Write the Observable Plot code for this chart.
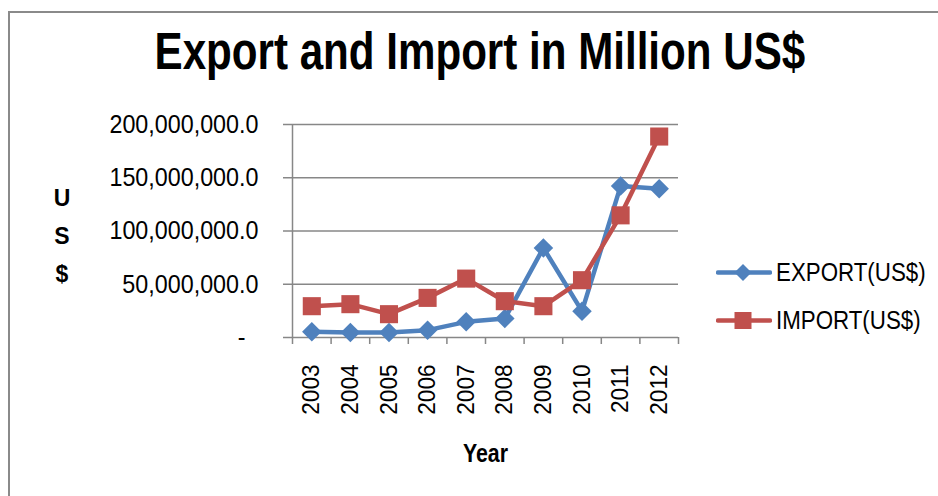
<!DOCTYPE html>
<html><head><meta charset="utf-8">
<script src="https://cdn.jsdelivr.net/npm/d3@7"></script>
<script src="https://cdn.jsdelivr.net/npm/@observablehq/plot@0.6"></script>
<style>
body{margin:0;background:#fff;}
#wrap{position:relative;width:938px;height:496px;overflow:hidden;background:#fff;
  font-family:"Liberation Sans",Arial,sans-serif;color:#000;}
#chart{position:absolute;left:0;top:0;}
#frame{position:absolute;left:8px;top:11px;width:1200px;height:800px;border:2px solid #8a8a8a;pointer-events:none;}
.t{position:absolute;white-space:nowrap;line-height:1;}
.n{display:inline-block;transform:scaleX(0.82);}
#title{left:0;width:960px;text-align:center;top:26px;font-size:51px;font-weight:bold;}
#title .n{transform-origin:center;transform:scaleX(0.826);}
#xtitle{left:385px;width:200px;text-align:center;top:440px;font-size:26px;font-weight:bold;}
#xtitle .n{transform-origin:center;}
.yl{left:42px;width:40px;text-align:center;font-size:23px;font-weight:bold;}
.lg{left:716px;font-size:25.5px;}
.lg .n{transform-origin:left center;transform:scaleX(0.875);}
.lg svg{vertical-align:middle;}
</style>
</head><body>
<div id="wrap">
  <div id="chart"></div>
  <div id="title" class="t"><span class="n">Export and Import in Million US$</span></div>
  <div class="t yl" style="top:187px">U</div>
  <div class="t yl" style="top:225px">S</div>
  <div class="t yl" style="top:263px">$</div>
  <div id="xtitle" class="t"><span class="n">Year</span></div>
  <div id="legend"></div>
  <div id="frame"></div>
</div>
<script>
const years = ["2003","2004","2005","2006","2007","2008","2009","2010","2011","2012"];
const exportUS = [5.3e6, 4.7e6, 4.7e6, 6.9e6, 14.7e6, 17.8e6, 84.1e6, 24.7e6, 142.2e6, 139.7e6];
const importUS = [29.4e6, 31.3e6, 21.9e6, 37.2e6, 55.3e6, 34.1e6, 29.4e6, 53.8e6, 114.7e6, 188.7e6];
const yTicks = [0, 50e6, 100e6, 150e6, 200e6];
const seriesNames = ["EXPORT(US$)", "IMPORT(US$)"];
const seriesColors = ["#4F81BD", "#C0504D"];

const rows = years.map((year, i) => ({year, pos: i + 0.5, exp: exportUS[i], imp: importUS[i]}));
const grid = "#878787";
const fmt = d3.format(",.1f");

const chart = Plot.plot({
  width: 938, height: 496,
  marginLeft: 292, marginRight: 260, marginTop: 124, marginBottom: 159,
  style: {fontFamily: '"Liberation Sans",Arial,sans-serif', fontSize: "26px", color: "#000", background: "transparent", overflow: "visible"},
  x: {type: "linear", domain: [0, years.length], axis: null},
  y: {domain: [0, 200e6], axis: null},
  marks: [
    Plot.gridY(yTicks, {stroke: grid, strokeOpacity: 1, strokeWidth: 1.5}),
    Plot.axisY(yTicks, {tickSize: 9, tickPadding: 25, stroke: grid, strokeWidth: 1.5, fontSize: 26.5, label: null,
      tickFormat: v => v === 0 ? "-\u00a0\u00a0" : fmt(v)}),
    Plot.ruleX([0], {stroke: grid, strokeWidth: 1.5}),
    Plot.axisX(d3.range(years.length + 1), {tickSize: 7, tickFormat: () => "", stroke: grid, strokeWidth: 1.5, label: null}),
    Plot.axisX(rows.map(d => d.pos), {tickSize: 0, tickPadding: 27, tickRotate: -90, fontSize: 24, label: null,
      tickFormat: v => years[Math.floor(v)]}),
    Plot.line(rows, {x: "pos", y: "exp", stroke: seriesColors[0], strokeWidth: 4.5, strokeLinejoin: "round"}),
    Plot.dot(rows, {x: "pos", y: "exp", symbol: "diamond2", r: 8.8, fill: seriesColors[0], stroke: null}),
    Plot.line(rows, {x: "pos", y: "imp", stroke: seriesColors[1], strokeWidth: 4.5, strokeLinejoin: "round"}),
    Plot.dot(rows, {x: "pos", y: "imp", symbol: "square", r: 10.2, fill: seriesColors[1], stroke: null})
  ]
});
// condense axis tick labels (narrow font look)
chart.querySelectorAll('g[aria-label="y-axis tick label"] text').forEach(t => {
  t.setAttribute("transform", (t.getAttribute("transform") || "") + " scale(0.88,1)");
});
chart.querySelectorAll('g[aria-label="x-axis tick label"] text').forEach(t => {
  t.setAttribute("transform", (t.getAttribute("transform") || "") + " scale(0.94,1)");
});
document.getElementById("chart").appendChild(chart);

// legend
const lg = document.getElementById("legend");
const tops = [260, 308];
seriesNames.forEach((name, i) => {
  const d = document.createElement("div");
  d.className = "t lg";
  d.style.top = tops[i] + "px";
  d.style.display = "flex";
  d.style.alignItems = "center";
  const marker = i === 0
    ? `<polygon points="27,1 35.5,9.5 27,18 18.5,9.5" fill="${seriesColors[i]}"/>`
    : `<rect x="18.5" y="1" width="17" height="17" fill="${seriesColors[i]}"/>`;
  d.innerHTML = `<svg width="56" height="19" style="margin-right:4px"><line x1="2" x2="54" y1="9.5" y2="9.5" stroke="${seriesColors[i]}" stroke-width="4.5" stroke-linecap="round"/>${marker}</svg><span class="n">${name}</span>`;
  lg.appendChild(d);
});
</script>
</body></html>
